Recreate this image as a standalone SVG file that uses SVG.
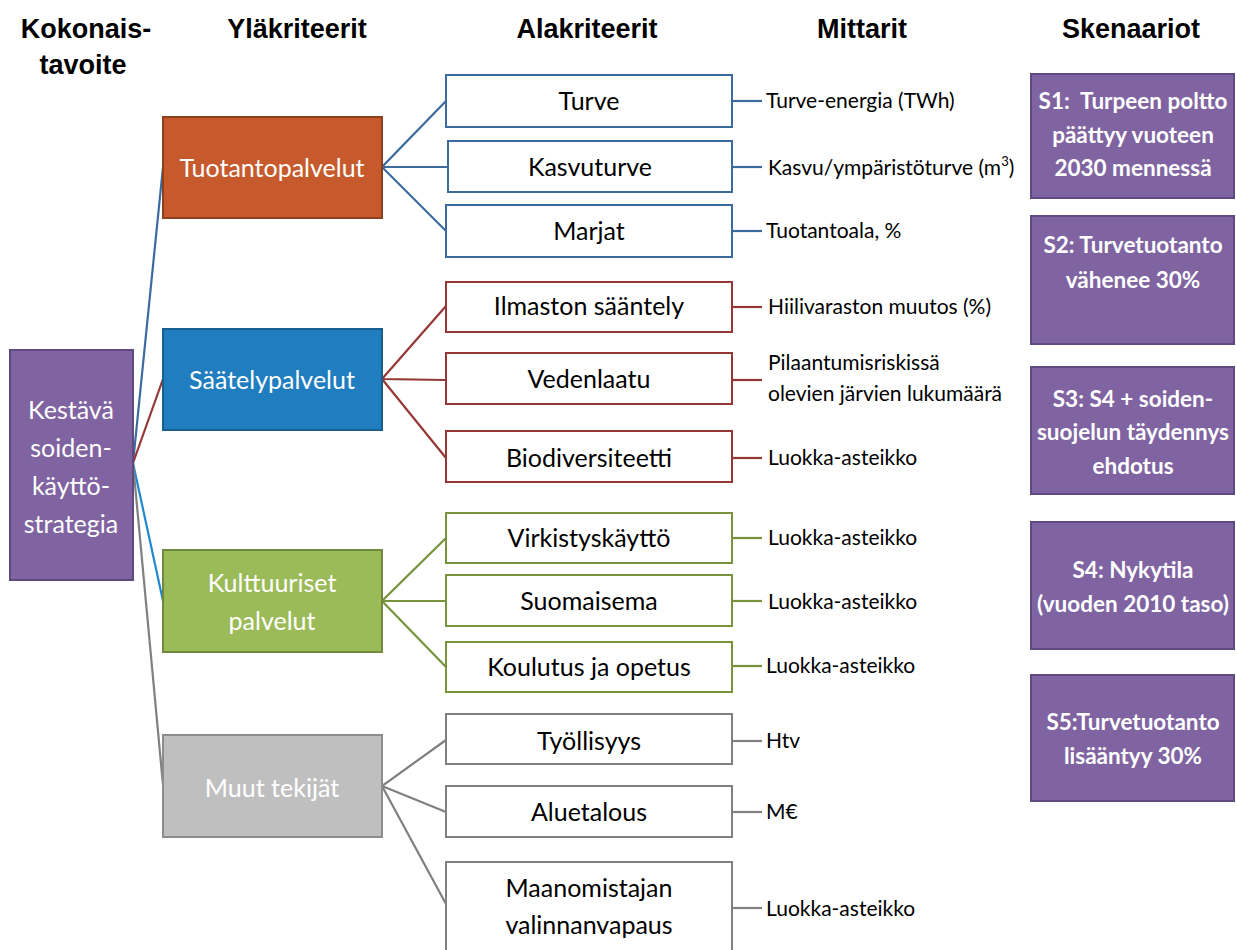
<svg xmlns="http://www.w3.org/2000/svg" width="1236" height="950" viewBox="0 0 1236 950">
<style>
.hdr{font-family:"Liberation Sans",Arial,sans-serif;font-weight:bold;font-size:27px;fill:#000;text-anchor:middle}
.wt{font-family:Lato,"Open Sans",sans-serif;font-size:25px;fill:#fff;text-anchor:middle}
.bt{font-family:Lato,"Open Sans",sans-serif;font-size:25px;fill:#000;text-anchor:middle}
.mt{font-family:Lato,"Open Sans",sans-serif;font-size:21px;fill:#000}
.st{font-family:Lato,"Open Sans",sans-serif;font-weight:bold;font-size:22.5px;fill:#fff;text-anchor:middle}
.scen{fill:#8064A2;stroke:#5E4A7E;stroke-width:2}
.ab{fill:#fff;stroke-width:2}
.ln{fill:none;stroke-width:2.2}
.blue{stroke:#3C6A9F}.red{stroke:#953735}.green{stroke:#77933C}.gray{stroke:#808080}.lblue{stroke:#1F88CF}
</style>

<g id="headers">
<text class="hdr" x="86" y="38">Kokonais-</text>
<text class="hdr" x="83" y="74">tavoite</text>
<text class="hdr" x="297" y="38">Yläkriteerit</text>
<text class="hdr" x="587" y="38">Alakriteerit</text>
<text class="hdr" x="862" y="38">Mittarit</text>
<text class="hdr" x="1131" y="38">Skenaariot</text>
</g>

<g id="connectors">
<line class="ln blue" x1="133" y1="463" x2="163" y2="167"/>
<line class="ln red" x1="133" y1="463" x2="163" y2="379"/>
<line class="ln lblue" x1="133" y1="463" x2="163" y2="601"/>
<line class="ln gray" x1="133" y1="463" x2="163" y2="785"/>

<polyline class="ln blue" points="446,101 382,167 448,167"/>
<line class="ln blue" x1="382" y1="167" x2="446" y2="231"/>
<polyline class="ln red" points="446,306 382,379 446,380"/>
<line class="ln red" x1="382" y1="379" x2="446" y2="458"/>
<polyline class="ln green" points="446,538 382,601 446,601"/>
<line class="ln green" x1="382" y1="601" x2="446" y2="667"/>
<polyline class="ln gray" points="446,740 382,786 446,812"/>
<line class="ln gray" x1="382" y1="786" x2="446" y2="904"/>

<line class="ln blue" x1="732" y1="101" x2="762" y2="101"/>
<line class="ln blue" x1="732" y1="167" x2="762" y2="167"/>
<line class="ln blue" x1="732" y1="231" x2="762" y2="231"/>
<line class="ln red" x1="732" y1="307" x2="762" y2="307"/>
<line class="ln red" x1="732" y1="380" x2="762" y2="380"/>
<line class="ln red" x1="732" y1="458" x2="762" y2="458"/>
<line class="ln green" x1="732" y1="538" x2="762" y2="538"/>
<line class="ln green" x1="732" y1="601" x2="762" y2="601"/>
<line class="ln green" x1="732" y1="666" x2="762" y2="666"/>
<line class="ln gray" x1="732" y1="741" x2="762" y2="741"/>
<line class="ln gray" x1="732" y1="812" x2="762" y2="812"/>
<line class="ln gray" x1="732" y1="908" x2="762" y2="908"/>
</g>

<g id="n-kestava">
<rect x="10" y="350" width="123" height="230" fill="#8064A2" stroke="#5E4A7E" stroke-width="2"/>
<text class="wt" x="71" y="419">Kestävä</text>
<text class="wt" x="71" y="457">soiden-</text>
<text class="wt" x="71" y="495">käyttö-</text>
<text class="wt" x="71" y="533">strategia</text>
</g>

<g id="n-tuotanto">
<rect x="163" y="117" width="219" height="101" fill="#C65A2C" stroke="#8E3F1E" stroke-width="2"/>
<text class="wt" x="272" y="177">Tuotantopalvelut</text>
</g>
<g id="n-saately">
<rect x="163" y="329" width="219" height="101" fill="#1F7DC0" stroke="#185E8F" stroke-width="2"/>
<text class="wt" x="272" y="389">Säätelypalvelut</text>
</g>
<g id="n-kulttuuri">
<rect x="163" y="550" width="219" height="102" fill="#9BBB59" stroke="#71893F" stroke-width="2"/>
<text class="wt" x="272" y="592">Kulttuuriset</text>
<text class="wt" x="272" y="630">palvelut</text>
</g>
<g id="n-muut">
<rect x="163" y="735" width="219" height="102" fill="#BFBFBF" stroke="#8C8C8C" stroke-width="2"/>
<text class="wt" x="272" y="797">Muut tekijät</text>
</g>

<g id="n-turve"><rect class="ab blue" x="446" y="75" width="286" height="52"/><text class="bt" x="589" y="110">Turve</text></g>
<g id="n-kasvuturve"><rect class="ab blue" x="448" y="141" width="284" height="51"/><text class="bt" x="590" y="176">Kasvuturve</text></g>
<g id="n-marjat"><rect class="ab blue" x="446" y="205" width="286" height="52"/><text class="bt" x="589" y="240">Marjat</text></g>

<g id="n-ilmasto"><rect class="ab red" x="446" y="282" width="286" height="50"/><text class="bt" x="589" y="315">Ilmaston sääntely</text></g>
<g id="n-vedenlaatu"><rect class="ab red" x="446" y="353" width="286" height="51"/><text class="bt" x="589" y="388">Vedenlaatu</text></g>
<g id="n-biodiv"><rect class="ab red" x="446" y="431" width="286" height="51"/><text class="bt" x="589" y="467">Biodiversiteetti</text></g>

<g id="n-virkistys"><rect class="ab green" x="446" y="513" width="286" height="50"/><text class="bt" x="589" y="547">Virkistyskäyttö</text></g>
<g id="n-suomaisema"><rect class="ab green" x="446" y="575" width="286" height="51"/><text class="bt" x="589" y="610">Suomaisema</text></g>
<g id="n-koulutus"><rect class="ab green" x="446" y="642" width="286" height="50"/><text class="bt" x="589" y="676">Koulutus ja opetus</text></g>

<g id="n-tyollisyys"><rect class="ab gray" x="446" y="714" width="286" height="50"/><text class="bt" x="589" y="750">Työllisyys</text></g>
<g id="n-aluetalous"><rect class="ab gray" x="446" y="786" width="286" height="51"/><text class="bt" x="589" y="821">Aluetalous</text></g>
<g id="n-maanomistaja"><rect class="ab gray" x="446" y="862" width="286" height="90"/><text class="bt" x="589" y="897">Maanomistajan</text><text class="bt" x="589" y="934">valinnanvapaus</text></g>

<g id="mittarit">
<text class="mt" x="766" y="108">Turve-energia (TWh)</text>
<text class="mt" x="768" y="175">Kasvu/ympäristöturve (m<tspan font-size="13" dy="-9">3</tspan><tspan dy="9">)</tspan></text>
<text class="mt" x="766" y="238">Tuotantoala, %</text>
<text class="mt" x="768" y="314">Hiilivaraston muutos (%)</text>
<text class="mt" x="768" y="370">Pilaantumisriskissä</text>
<text class="mt" x="768" y="401">olevien järvien lukumäärä</text>
<text class="mt" x="768" y="465">Luokka-asteikko</text>
<text class="mt" x="768" y="545">Luokka-asteikko</text>
<text class="mt" x="768" y="609">Luokka-asteikko</text>
<text class="mt" x="766" y="673">Luokka-asteikko</text>
<text class="mt" x="766" y="748">Htv</text>
<text class="mt" x="766" y="819">M€</text>
<text class="mt" x="766" y="916">Luokka-asteikko</text>
</g>

<g id="s1"><rect class="scen" x="1031" y="74" width="203" height="124"/>
<text class="st" x="1133" y="109">S1:&#160; Turpeen poltto</text>
<text class="st" x="1133" y="143">päättyy vuoteen</text>
<text class="st" x="1133" y="176">2030 mennessä</text></g>
<g id="s2"><rect class="scen" x="1031" y="216" width="203" height="128"/>
<text class="st" x="1133" y="253">S2: Turvetuotanto</text>
<text class="st" x="1133" y="288">vähenee 30%</text></g>
<g id="s3"><rect class="scen" x="1031" y="367" width="203" height="127"/>
<text class="st" x="1133" y="407">S3: S4 + soiden-</text>
<text class="st" x="1133" y="440">suojelun täydennys</text>
<text class="st" x="1133" y="474">ehdotus</text></g>
<g id="s4"><rect class="scen" x="1031" y="522" width="203" height="127"/>
<text class="st" x="1133" y="578">S4: Nykytila</text>
<text class="st" x="1133" y="612">(vuoden 2010 taso)</text></g>
<g id="s5"><rect class="scen" x="1031" y="675" width="203" height="126"/>
<text class="st" x="1133" y="730">S5:Turvetuotanto</text>
<text class="st" x="1133" y="764">lisääntyy 30%</text></g>
</svg>
